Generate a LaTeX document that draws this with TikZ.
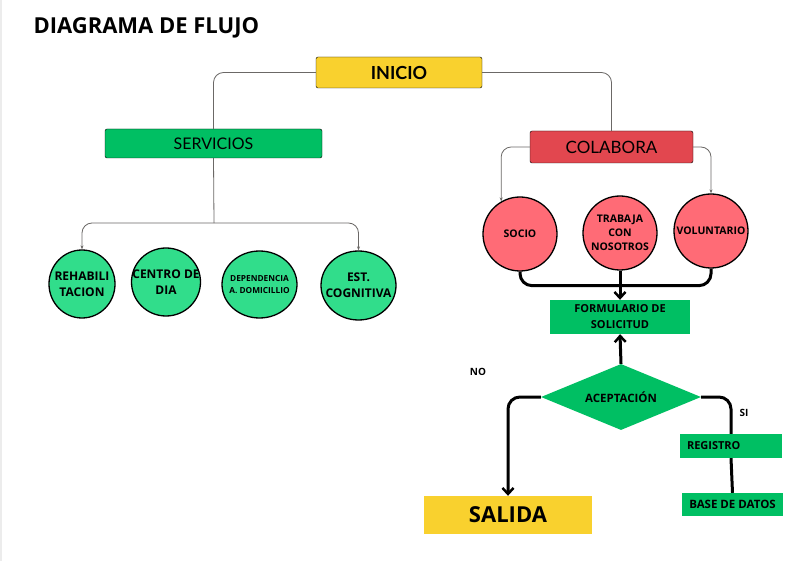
\documentclass[tikz,border=0pt]{standalone}
\usepackage{fontspec}
\setmainfont{Open Sans}
\newfontfamily\cajaFont{Lato}
\usepackage{xcolor}
\usepackage{tikz}
\usetikzlibrary{shapes.geometric,arrows.meta}

\definecolor{amarilloMain}{HTML}{F9D12E}
\definecolor{verdeMain}{HTML}{00BF63}
\definecolor{verdeClaro}{HTML}{31DD8B}
\definecolor{rojoMain}{HTML}{E2474F}
\definecolor{rosaMain}{HTML}{FF6B76}
\definecolor{grisLinea}{HTML}{6b6866}

\tikzset{
    cajaTitulo/.style={
        draw=black,
        thin,
        rounded corners=2pt,
        inner sep=0pt,
        font=\cajaFont\fontsize{16}{18}\selectfont
    },
    circuloVerde/.style={
        ellipse,
        draw=black,
        line width=1.3pt,
        fill=verdeClaro,
        inner xsep=-14pt,
        inner ysep=-8pt,
        align=center,
        font=\bfseries\fontsize{12}{16}\selectfont
    },
    circuloRosa/.style={
        circle,
        draw=black,
        line width=1.3pt,
        fill=rosaMain,
        minimum size=74pt,
        inner sep=-6pt,
        align=center,
        font=\bfseries\fontsize{10.5}{14}\selectfont
    },
    cajaVerde/.style={
        fill=verdeMain,
        inner sep=0pt,
        align=center,
        font=\bfseries\fontsize{11}{16}\selectfont
    },
    lineaFina/.style={
        draw=grisLinea,
        line width=0.8pt,
        rounded corners=10pt
    },
    lineaGruesa/.style={
        draw=black,
        line width=3pt,
        rounded corners=12pt
    },
    flechaFina/.style={-{Stealth[length=4pt,width=3pt]}},
    flechaGruesa/.style={-{Straight Barb[length=6pt,width=11pt,line width=2.5pt]}}
}

\begin{document}
\begin{tikzpicture}[x=1pt,y=-1pt]

        \useasboundingbox[fill=white] (0,0) rectangle (795,561);
        \fill[gray!15] (0,0) rectangle (2,561);

        % Título
        \node[
            anchor=west,
            font=\bfseries\fontsize{22}{26}\selectfont
        ] (titulo) at (30,28) {DIAGRAMA DE FLUJO};

        % =====================================================
        % NIVEL 1
        % =====================================================

        \node[
            cajaTitulo,
            fill=amarilloMain,
            minimum width=166pt,
            minimum height=31pt,
            font=\cajaFont\bfseries\fontsize{18}{20}\selectfont
        ] (inicio) at (399,72.5) {INICIO};

        \node[
            cajaTitulo,
            fill=verdeMain,
            minimum width=217pt,
            minimum height=29pt
        ] (servicios) at (213.5,143.5) {SERVICIOS};

        \node[
            cajaTitulo,
            fill=rojoMain,
            minimum width=163pt,
            minimum height=32pt,
            font=\cajaFont\fontsize{17}{20}\selectfont
        ] (colabora) at (611.5,147) {COLABORA};

        \draw[lineaFina] (inicio.west) -| (servicios.north);
        \draw[lineaFina] (inicio.east) -| (colabora.north);

        % =====================================================
        % SERVICIOS
        % =====================================================

        \node[circuloVerde, minimum width=66pt, minimum height=68pt]
            (rehabilitacion) at (82,284) {REHABILI\\TACION};
        \node[circuloVerde, minimum width=69pt, minimum height=68pt]
            (centroDia) at (166,282) {CENTRO DE\\DIA};
        \node[
            circuloVerde,
            minimum width=75pt,
            minimum height=67pt,
            font=\bfseries\fontsize{8.3}{12}\selectfont
        ] (dependencia) at (259.5,284.5) {DEPENDENCIA\\A. DOMICILLIO};
        \node[circuloVerde, minimum width=75pt, minimum height=69pt]
            (cognitiva) at (358.5,285.5) {EST.\\COGNITIVA};

        \coordinate (busServicios) at (214,223);
        \draw[lineaFina] (servicios.south) -- (busServicios);
        \draw[lineaFina, flechaFina] (busServicios) -| (rehabilitacion.north);
        \draw[lineaFina, flechaFina] (busServicios) -| (cognitiva.north);

        % =====================================================
        % COLABORA
        % =====================================================

        \node[circuloRosa] (socio) at (520,234) {SOCIO};
        \node[circuloRosa] (trabaja) at (620,233) {TRABAJA\\CON\\NOSOTROS};
        \node[circuloRosa] (voluntario) at (711,231) {VOLUNTARIO};

        \draw[lineaFina, flechaFina] (colabora.west) -| (socio.120);
        \draw[lineaFina, flechaFina] (colabora.east) -| (voluntario.north);

        \node[
            cajaVerde,
            minimum width=140pt,
            minimum height=34pt
        ] (formulario) at (620,317) {FORMULARIO DE\\SOLICITUD};

        \draw[lineaGruesa] (socio.south) -- ++(0,14) -| (voluntario.south);
        \draw[lineaGruesa, flechaGruesa] (trabaja.south) -- (formulario.north);

        % =====================================================
        % DECISIÓN
        % =====================================================

        \node[
            diamond,
            aspect=2.4,
            fill=verdeMain,
            minimum width=160pt,
            minimum height=66pt,
            inner sep=-8pt,
            font=\bfseries\fontsize{11.5}{12}\selectfont
        ] (aceptacion) at (621,397) {ACEPTACIÓN};

        \node[
            fill=amarilloMain,
            minimum width=168pt,
            minimum height=38pt,
            inner sep=0pt,
            font=\bfseries\fontsize{22}{24}\selectfont
        ] (salida) at (508,515) {SALIDA};

        \node[
            cajaVerde,
            minimum width=102pt,
            minimum height=24pt,
            text width=88pt,
            align=left
        ] (registro) at (731,446) {REGISTRO};

        \node[
            cajaVerde,
            minimum width=101pt,
            minimum height=23pt,
            font=\bfseries\fontsize{11.5}{14}\selectfont
        ] (baseDatos) at (732.5,504.5) {BASE DE DATOS};

        \node[font=\bfseries\fontsize{10}{12}\selectfont] (etiquetaNo) at (478,372) {NO};
        \node[font=\bfseries\fontsize{10}{12}\selectfont] (etiquetaSi) at (744,413) {SI};

        \draw[lineaGruesa, flechaGruesa] (aceptacion.north) -- (formulario.south);
        \draw[lineaGruesa, flechaGruesa] (aceptacion.west) -| (salida.north);
        \draw[lineaGruesa] (aceptacion.east) -| (registro.north);
        \draw[lineaGruesa] (registro.south) -- (baseDatos.north);

\end{tikzpicture}
\end{document}
